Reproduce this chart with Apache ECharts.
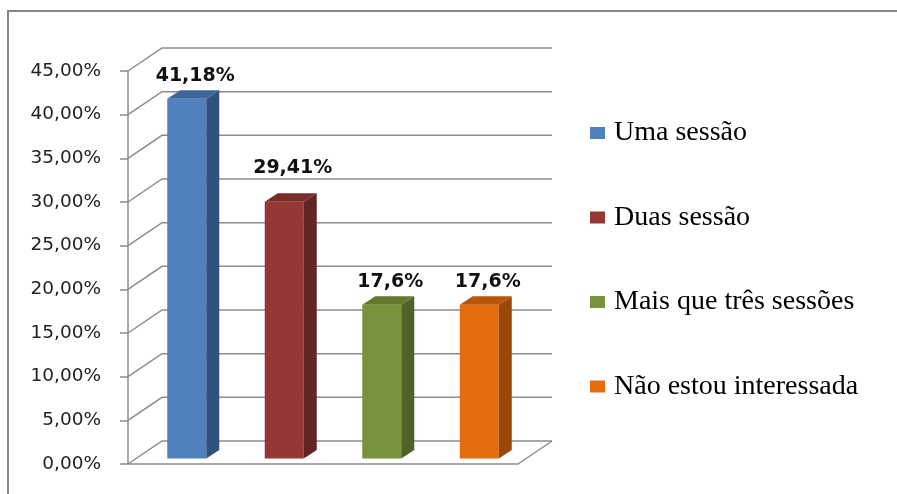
<!DOCTYPE html>
<html>
<head>
<meta charset="utf-8">
<script src="https://cdn.jsdelivr.net/npm/echarts@6/dist/echarts.min.js"></script>
<style>
    html, body { margin: 0; padding: 0; background: #fff; }
    #chart { width: 897px; height: 494px; }
</style>
</head>
<body>
<div id="chart"></div>
<script>
    // dados
    var categories = ['Uma sessão', 'Duas sessão', 'Mais que três sessões', 'Não estou interessada'];
    var values = [41.18, 29.41, 17.6, 17.6];
    var valueLabels = ['41,18%', '29,41%', '17,6%', '17,6%'];
    var yTicks = [0, 5, 10, 15, 20, 25, 30, 35, 40, 45];

    var frontColors = ['#4f81bd', '#953735', '#77933c', '#e46c0a'];
    var sideColors = ['#31527d', '#632523', '#4f6228', '#984807'];
    var topColors = ['#3e6698', '#7a2c2a', '#62792f', '#b65708'];

    var WALL = [34, -23];      // profundidade da parede de fundo
    var BAR = [13, -8.5];      // profundidade de cada barra
    var BAR_OFF = [10, -5.5];  // deslocamento da face frontal da barra
    var LABEL_LIFT = [0, 11, 0, 0]; // rótulo da 2a barra foi puxado para cima no original
    var GRID_COLOR = '#8c8c8c';

    var myChart = echarts.init(document.getElementById('chart'));

    function renderGrid(params, api) {
        var cs = params.coordSys;
        var v = api.value(1);
        var y = api.coord([0, v])[1];
        var x0 = cs.x, x1 = cs.x + cs.width;
        var children = [{
            type: 'polyline',
            shape: {points: [[x0, y], [x0 + WALL[0], y + WALL[1]], [x1 + WALL[0], y + WALL[1]]]},
            style: {stroke: GRID_COLOR, lineWidth: 1.5, fill: null}
        }];
        if (v === 0) {
            children.push({
                type: 'line',
                shape: {x1: x1, y1: y, x2: x1 + WALL[0], y2: y + WALL[1]},
                style: {stroke: GRID_COLOR, lineWidth: 1.5}
            });
        }
        return {type: 'group', children: children};
    }

    function makeBar(i) {
        return function (params, api) {
            var base = api.coord([api.value(0), 0]);
            var top = api.coord([api.value(0), api.value(1)]);
            var bw = api.size([1, 0])[0] * 0.4;
            var xl = base[0] - bw / 2 + BAR_OFF[0];
            var xr = xl + bw;
            var yb = base[1] + BAR_OFF[1];
            var yt = top[1] + BAR_OFF[1];
            return {
                type: 'group',
                children: [
                    {type: 'rect', shape: {x: xl, y: yt, width: bw, height: yb - yt},
                        style: {fill: frontColors[i]}},
                    {type: 'polygon', shape: {points: [[xr, yt], [xr + BAR[0], yt + BAR[1]], [xr + BAR[0], yb + BAR[1]], [xr, yb]]},
                        style: {fill: sideColors[i]}},
                    {type: 'polygon', shape: {points: [[xl, yt], [xl + BAR[0], yt + BAR[1]], [xr + BAR[0], yt + BAR[1]], [xr, yt]]},
                        style: {fill: topColors[i]}},
                    {type: 'text', style: {
                        text: valueLabels[i],
                        x: xl + (bw + BAR[0]) / 2 + 2,
                        y: yt + BAR[1] - 5 - LABEL_LIFT[i],
                        align: 'center',
                        verticalAlign: 'bottom',
                        font: 'bold 19px "DejaVu Sans"',
                        fill: '#111'
                    }}
                ]
            };
        };
    }

    var series = [{
        type: 'custom',
        name: 'grade',
        data: yTicks.map(function (v) { return [0, v]; }),
        encode: {x: 0, y: 1},
        renderItem: renderGrid,
        silent: true,
        z: 1
    }];
    categories.forEach(function (name, i) {
        series.push({
            type: 'custom',
            name: name,
            data: [[i, values[i]]],
            encode: {x: 0, y: 1},
            itemStyle: {color: frontColors[i]},
            renderItem: makeBar(i),
            z: 3
        });
    });

    var option = {
        animation: false,
        backgroundColor: '#fff',
        grid: {left: 128, right: 379, top: 71, bottom: 30},
        xAxis: {
            type: 'category',
            data: categories,
            axisLabel: {show: false},
            axisTick: {show: false},
            axisLine: {lineStyle: {color: GRID_COLOR, width: 1.5}}
        },
        yAxis: {
            type: 'value',
            min: 0,
            max: 45,
            interval: 5,
            splitLine: {show: false},
            axisLine: {show: true, lineStyle: {color: GRID_COLOR, width: 1.5}},
            axisTick: {show: true, length: 8, lineStyle: {color: GRID_COLOR, width: 1.5}},
            axisLabel: {
                margin: 27,
                color: '#222',
                fontFamily: 'DejaVu Sans',
                fontSize: 18.5,
                formatter: function (v) { return v.toFixed(2).replace('.', ',') + '%'; }
            }
        },
        legend: {
            orient: 'vertical',
            left: 585,
            top: 114,
            itemWidth: 15,
            itemHeight: 12,
            itemGap: 56.5,
            icon: 'rect',
            data: categories,
            textStyle: {fontFamily: 'Liberation Serif', fontSize: 28, color: '#000', padding: [0, 0, 0, 4]}
        },
        graphic: [{
            type: 'polyline',
            shape: {points: [[8, 520], [8, 11], [920, 11]]},
            style: {fill: null, stroke: '#858585', lineWidth: 2},
            silent: true
        }],
        series: series
    };
    myChart.setOption(option);
</script>
</body>
</html>
